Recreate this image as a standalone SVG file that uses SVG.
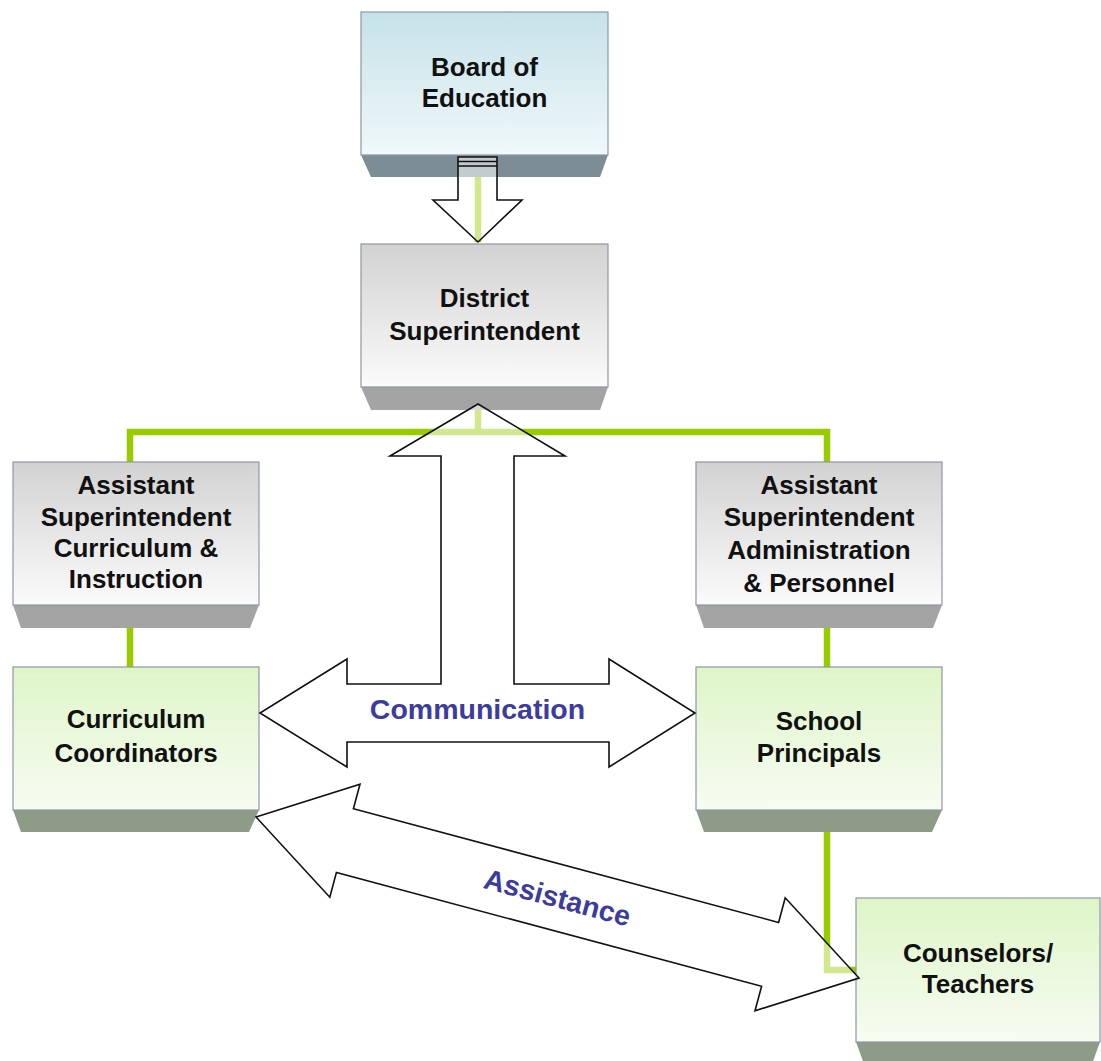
<svg xmlns="http://www.w3.org/2000/svg" width="1101" height="1061" viewBox="0 0 1101 1061">
<defs>
<linearGradient id="gBlue" x1="0" y1="0" x2="0" y2="1"><stop offset="0" stop-color="#c6e2e9"/><stop offset="1" stop-color="#f0f8fa"/></linearGradient>
<linearGradient id="gGrey" x1="0" y1="0" x2="0" y2="1"><stop offset="0" stop-color="#d2d2d2"/><stop offset="1" stop-color="#fbfbfb"/></linearGradient>
<linearGradient id="gGreen" x1="0" y1="0" x2="0" y2="1"><stop offset="0" stop-color="#def5c8"/><stop offset="1" stop-color="#f7fcf2"/></linearGradient>
<style>
.box{stroke:#8e97a8;stroke-width:1.2}
.blue{fill:url(#gBlue)}
.grey{fill:url(#gGrey)}
.green{fill:url(#gGreen)}
.bvBlue{fill:#7c8d96}
.bvGrey{fill:#a4a4a4}
.bvGreen{fill:#8e9c87}
.lbl{font-family:"Liberation Sans",Arial,sans-serif;font-weight:bold;font-size:26px;fill:#111;text-anchor:middle}
.link{fill:none;stroke:#99cc00;stroke-width:6.5;stroke-linejoin:miter}
.arrow{fill:#fff;fill-opacity:0.55;stroke:#111;stroke-width:1.6;stroke-linejoin:miter}
.alab{font-family:"Liberation Sans",Arial,sans-serif;font-weight:bold;font-size:28.5px;fill:#3c3c9e;text-anchor:middle}
</style>
</defs>
<rect width="1101" height="1061" fill="#fff"/>

<g id="connectors">
<path class="link" d="M478 177 V242"/>
<path class="link" d="M478 410 V432"/>
<path class="link" d="M130 462 V432 H827 V462"/>
<path class="link" d="M130 628 V667"/>
<path class="link" d="M827 628 V667"/>
<path class="link" d="M827 832 V970 H856"/>
</g>

<g id="board">
<polygon class="bvBlue" points="361,155 608,155 600,177 371,177"/>
<rect class="box blue" x="361" y="12" width="247" height="143"/>
<text class="lbl" x="484.5" y="76">Board of</text>
<text class="lbl" x="484.5" y="107">Education</text>
</g>

<g id="district">
<polygon class="bvGrey" points="361,387 608,387 600,410 371,410"/>
<rect class="box grey" x="361" y="244" width="247" height="143"/>
<text class="lbl" x="484.5" y="307">District</text>
<text class="lbl" x="484.5" y="340">Superintendent</text>
</g>

<g id="asst-curriculum">
<polygon class="bvGrey" points="13,605 259,605 250,628 21,628"/>
<rect class="box grey" x="13" y="462" width="246" height="143"/>
<text class="lbl" x="136" y="494">Assistant</text>
<text class="lbl" x="136" y="526">Superintendent</text>
<text class="lbl" x="136" y="557">Curriculum &amp;</text>
<text class="lbl" x="136" y="588">Instruction</text>
</g>

<g id="asst-admin">
<polygon class="bvGrey" points="696,605 942,605 933,628 704,628"/>
<rect class="box grey" x="696" y="462" width="246" height="143"/>
<text class="lbl" x="819" y="494">Assistant</text>
<text class="lbl" x="819" y="526">Superintendent</text>
<text class="lbl" x="819" y="559">Administration</text>
<text class="lbl" x="819" y="592">&amp; Personnel</text>
</g>

<g id="curriculum-coordinators">
<polygon class="bvGreen" points="13,810 259,810 249,832 21,832"/>
<rect class="box green" x="13" y="667" width="246" height="143"/>
<text class="lbl" x="136" y="728">Curriculum</text>
<text class="lbl" x="136" y="762">Coordinators</text>
</g>

<g id="school-principals">
<polygon class="bvGreen" points="696,810 942,810 932,832 704,832"/>
<rect class="box green" x="696" y="667" width="246" height="143"/>
<text class="lbl" x="819" y="730">School</text>
<text class="lbl" x="819" y="762">Principals</text>
</g>

<g id="counselors-teachers">
<polygon class="bvGreen" points="856,1042 1100,1042 1092,1064 864,1064"/>
<rect class="box green" x="856" y="898" width="244" height="144"/>
<text class="lbl" x="978" y="962">Counselors/</text>
<text class="lbl" x="978" y="993">Teachers</text>
</g>

<g id="arrows">
<polygon class="arrow" points="458,157 497,157 497,200 522,200 478,242 433,200 458,200"/>
<path d="M458 161.5 H497 M458 166 H497" stroke="#111" stroke-width="1.4" fill="none"/>
<polygon class="arrow" points="478,404 565,456 514,456 514,684 609,684 609,659 695,713 609,767 609,742 347,742 347,767 260,713 347,659 347,684 441,684 441,456 390,456"/>
<polygon class="arrow" points="256,817 360,784.2 353.4,808.8 778.6,922.4 785.2,897.8 859,978 755,1010.8 761.6,986.2 336.4,872.6 329.8,897.2"/>
<text class="alab" x="477.5" y="719">Communication</text>
<text class="alab" transform="translate(557.5,897.5) rotate(14.96)" x="0" y="10">Assistance</text>
</g>
</svg>
